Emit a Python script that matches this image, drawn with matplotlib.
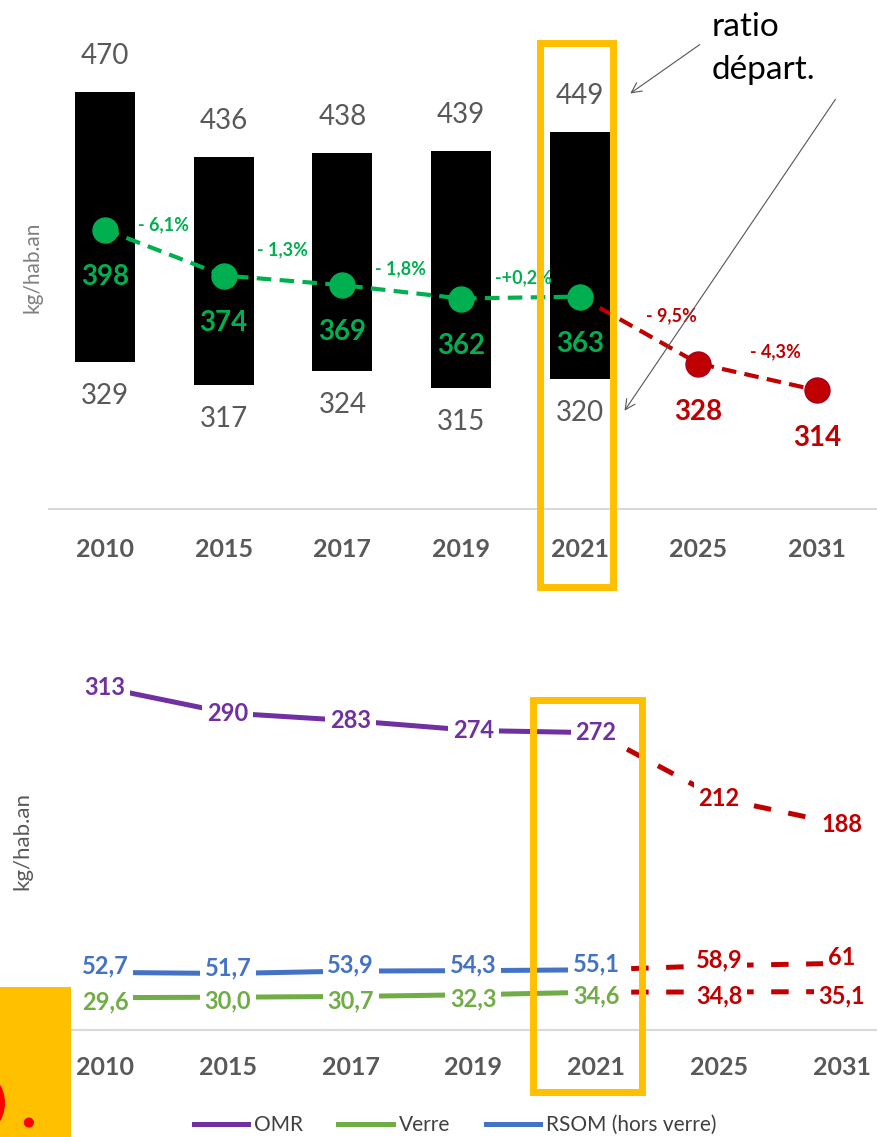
import matplotlib
matplotlib.use("Agg")
import matplotlib.pyplot as plt
from matplotlib.patches import Rectangle, Ellipse
from matplotlib.lines import Line2D

plt.rcParams["font.family"] = ["Lato", "DejaVu Sans"]

years = ["2010", "2015", "2017", "2019", "2021", "2025", "2031"]

# haut : production totale (barres) et ratio
total_high = [470, 436, 438, 439, 449]
total_low = [329, 317, 324, 315, 320]
ratio_hist = [398, 374, 369, 362, 363]
ratio_proj = [328, 314]
ratio_pct = ["- 6,1%", "- 1,3%", "- 1,8%", "-+0,2%", "- 9,5%", "- 4,3%"]

# bas : flux
omr_hist = [313, 290, 283, 274, 272]
omr_proj = [212, 188]
verre_hist = [29.6, 30.0, 30.7, 32.3, 34.6]
verre_proj = [34.8, 35.1]
rsom_hist = [52.7, 51.7, 53.9, 54.3, 55.1]
rsom_proj = [58.9, 61]

GREEN = "#00B050"
RED = "#C00000"
GREY = "#595959"
ORANGE = "#FFC000"

W, H = 877, 1137


def fx(x):
    return x / W


def fy(y):
    return 1 - y / H


def fmt(v):
    return str(v).replace(".", ",")


fig = plt.figure(figsize=(W / 100, H / 100), dpi=100)

# ---------- top chart ----------
ax1 = fig.add_axes([fx(49), fy(509), fx(877) - fx(49), 509 / H])
ax1.set_xlim(-0.472, 6.504)
ax1.set_ylim(252, 518)

xh = list(range(len(total_high)))
ax1.bar(xh, [h - l for h, l in zip(total_high, total_low)], bottom=total_low,
        width=0.505, color="black", zorder=1)
for i, (h, l) in enumerate(zip(total_high, total_low)):
    ax1.annotate(str(h), (i, h), xytext=(0, 36), textcoords="offset pixels",
                 ha="center", va="center", fontsize=20, color=GREY)
    ax1.annotate(str(l), (i, l), xytext=(0, -34), textcoords="offset pixels",
                 ha="center", va="center", fontsize=20, color=GREY)

xp = [4, 5, 6]
ax1.plot(xp, [ratio_hist[-1]] + ratio_proj, color=RED, lw=3, dashes=(3.5, 2), zorder=2)
ax1.plot(xp[1:], ratio_proj, "o", ms=18, color=RED, mec="#A50021", zorder=3)
ax1.plot(xh, ratio_hist, color=GREEN, lw=3, dashes=(3.5, 2), marker="o", ms=18,
         zorder=3)

for i, v in enumerate(ratio_hist):
    ax1.annotate(str(v), (i, v), xytext=(0, -47), textcoords="offset pixels",
                 ha="center", va="center", fontsize=20, fontweight="bold", color=GREEN)
for i, v in zip(xp[1:], ratio_proj):
    ax1.annotate(str(v), (i, v), xytext=(0, -48), textcoords="offset pixels",
                 ha="center", va="center", fontsize=20, fontweight="bold", color=RED)

ratio_all = ratio_hist + ratio_proj
pct_off = [(-1, 28), (-1, 31), (-1, 23), (3, 20), (32, 14), (18, 25)]
for k, txt in enumerate(ratio_pct):
    ym = (ratio_all[k] + ratio_all[k + 1]) / 2
    ax1.annotate(txt, (k + 0.5, ym), xytext=pct_off[k], textcoords="offset pixels",
                 ha="center", va="center", fontsize=13, fontweight="bold",
                 color=GREEN if k < 4 else RED, zorder=4)

# ---------- bottom chart ----------
ax2 = fig.add_axes([fx(72), fy(1030), fx(877) - fx(72), 370 / H])
ax2.set_xlim(-0.269, 6.287)
ax2.set_ylim(0, 338.5)

series = [
    (omr_hist, omr_proj, "#7030A0", 0),
    (rsom_hist, rsom_proj, "#4472C4", 6),
    (verre_hist, verre_proj, "#70AD47", -4),
]
for hist, proj, col, dy in series:
    ax2.plot(xh, hist, color=col, lw=3.6, solid_capstyle="butt", zorder=2)
    ax2.plot(xp, [hist[-1]] + proj, color=RED, lw=3.6, dashes=(3.5, 3.5), zorder=2)
    for i, v in enumerate(hist):
        ax2.annotate(fmt(v), (i, v), xytext=(0, dy), textcoords="offset pixels",
                     ha="center", va="center", fontsize=17, fontweight="bold", color=col,
                     bbox=dict(boxstyle="square,pad=0.2", fc="white", ec="none"), zorder=4)
    for i, v in zip(xp[1:], proj):
        ax2.annotate(fmt(v), (i, v), xytext=(0, dy), textcoords="offset pixels",
                     ha="center", va="center", fontsize=17, fontweight="bold", color=RED,
                     bbox=dict(boxstyle="square,pad=0.2", fc="white", ec="none"), zorder=4)

for ax in (ax1, ax2):
    for s in ("top", "left", "right"):
        ax.spines[s].set_visible(False)
    ax.spines["bottom"].set_color("#d9d9d9")
    ax.spines["bottom"].set_linewidth(1.5)
    ax.set_yticks([])
    ax.set_xticks(range(len(years)))
    ax.set_xticklabels(years, fontsize=18, fontweight="bold", color=GREY)
ax1.tick_params(axis="x", length=0, pad=21)
ax2.tick_params(axis="x", length=0, pad=19)

fig.text(fx(32), fy(267), "kg/hab.an", rotation=90, ha="center", va="center",
         fontsize=15, color="#7f7f7f")
fig.text(fx(22), fy(841), "kg/hab.an", rotation=90, ha="center", va="center",
         fontsize=16, color=GREY)

handles = [Line2D([], [], color=c, lw=3.6) for c in ("#7030A0", "#70AD47", "#4472C4")]
fig.legend(handles, ["OMR", "Verre", "RSOM (hors verre)"], loc="center",
           bbox_to_anchor=(fx(455), fy(1125)), ncol=3, frameon=False, fontsize=15,
           handlelength=2.6, handletextpad=0.3, columnspacing=1.7, labelcolor="#404040")

# encadrés 2021
fig.add_artist(Rectangle((fx(540), fy(587)), fx(613) - fx(540), (587 - 43) / H,
                         transform=fig.transFigure, fill=False, ec=ORANGE, lw=5, zorder=10))
fig.add_artist(Rectangle((fx(533), fy(1092)), fx(642) - fx(533), (1092 - 700) / H,
                         transform=fig.transFigure, fill=False, ec=ORANGE, lw=5, zorder=10))

# annotation ratio départ.
fig.text(fx(712), fy(27), "ratio", ha="left", va="center", fontsize=24, color="black")
fig.text(fx(712), fy(70), "départ.", ha="left", va="center", fontsize=24, color="black")
arrow = dict(arrowstyle="->", color="#555555", lw=0.8, mutation_scale=18)
fig.add_artist(plt.Annotation("", xy=(628, H - 95), xytext=(702, H - 43),
                              xycoords="figure pixels", arrowprops=arrow, zorder=11))
fig.add_artist(plt.Annotation("", xy=(623, H - 413), xytext=(837, H - 97),
                              xycoords="figure pixels", arrowprops=arrow, zorder=11))

# bloc orange en bas à gauche (fragment rouge coupé au bord)
fig.add_artist(Rectangle((0, fy(1137)), fx(71), (1137 - 987) / H,
                         transform=fig.transFigure, fc=ORANGE, ec="none", zorder=9))
fig.add_artist(Ellipse((fx(-22), fy(1103)), 54 / W, 64 / H, transform=fig.transFigure,
                       fc="#FF0000", ec="none", zorder=12))
fig.text(fx(28), fy(1127), ".", ha="center", va="baseline", fontsize=48, fontweight="bold",
         color="#FF0000", zorder=12)

fig.savefig("out.png", dpi=100)
